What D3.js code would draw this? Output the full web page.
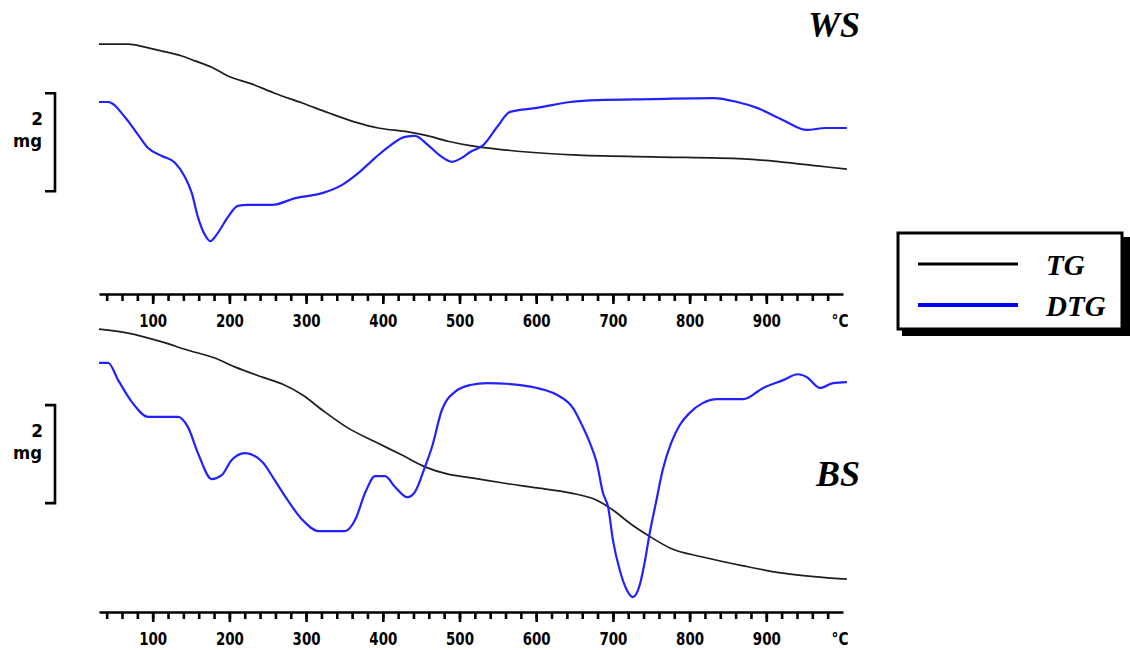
<!DOCTYPE html>
<html>
<head>
<meta charset="utf-8">
<script src="https://cdn.jsdelivr.net/npm/d3@7"></script>
<style>
  html, body { margin: 0; padding: 0; background: #fff; }
  svg { display: block; }
</style>
</head>
<body>
<svg id="chart" width="1130" height="650"></svg>
<script>
// ---------- DATA ----------
const seriesNames = ["TG", "DTG"];
const panelNames = ["WS", "BS"];
const tickLabels = [100, 200, 300, 400, 500, 600, 700, 800, 900];
const minorTicks = d3.range(40, 1000, 20);
const unitLabel = "°C";
const scaleBarLabel = ["2", "mg"];

// WS panel (temperature in °C, values in mg-scale units)
const wsTgTemp = [30, 68, 90, 112, 138, 155, 177, 198, 229, 259, 295, 329, 364, 394, 433, 459, 485, 518, 549, 588, 648, 752, 870, 918, 970, 1005];
const wsTgValue = [4.20, 4.20, 4.14, 4.06, 3.96, 3.86, 3.73, 3.55, 3.39, 3.20, 3.00, 2.80, 2.61, 2.49, 2.41, 2.33, 2.22, 2.12, 2.06, 2.00, 1.94, 1.90, 1.86, 1.80, 1.71, 1.65];
const wsDtgTemp = [30, 42, 64, 81, 94, 112, 129, 142, 151, 159, 168, 175, 185, 198, 211, 224, 256, 286, 321, 347, 368, 390, 407, 429, 442, 459, 477, 490, 503, 514, 531, 549, 566, 601, 644, 680, 752, 831, 862, 888, 922, 953, 977, 1005];
const wsDtgValue = [3.02, 3.02, 2.71, 2.35, 2.08, 1.92, 1.78, 1.49, 1.16, 0.67, 0.31, 0.18, 0.35, 0.67, 0.90, 0.92, 0.92, 1.06, 1.16, 1.33, 1.57, 1.88, 2.10, 2.31, 2.33, 2.14, 1.90, 1.80, 1.88, 2.00, 2.14, 2.51, 2.82, 2.90, 3.02, 3.06, 3.08, 3.10, 3.02, 2.90, 2.65, 2.45, 2.49, 2.49];

// BS panel
const bsTgTemp = [30, 68, 112, 146, 181, 207, 243, 269, 295, 321, 355, 390, 425, 455, 485, 518, 557, 601, 644, 679, 700, 722, 745, 775, 817, 870, 922, 970, 1005];
const bsTgValue = [5.65, 5.57, 5.39, 5.22, 5.06, 4.88, 4.67, 4.53, 4.31, 4.00, 3.63, 3.35, 3.08, 2.84, 2.69, 2.61, 2.51, 2.41, 2.31, 2.16, 1.96, 1.69, 1.45, 1.18, 1.00, 0.82, 0.67, 0.59, 0.55];
const bsDtgTemp = [30, 42, 55, 73, 94, 133, 146, 159, 177, 190, 203, 220, 243, 259, 276, 295, 316, 351, 364, 377, 390, 403, 416, 432, 442, 455, 464, 477, 494, 514, 536, 566, 601, 627, 648, 661, 670, 679, 687, 694, 700, 709, 718, 726, 735, 742, 748, 756, 765, 776, 787, 800, 817, 836, 870, 896, 922, 941, 953, 970, 987, 1005];
const bsDtgValue = [4.96, 4.96, 4.61, 4.16, 3.86, 3.86, 3.65, 3.12, 2.59, 2.67, 2.98, 3.12, 2.94, 2.57, 2.16, 1.76, 1.53, 1.53, 1.76, 2.31, 2.65, 2.65, 2.43, 2.22, 2.33, 2.84, 3.24, 4.00, 4.37, 4.51, 4.55, 4.53, 4.45, 4.31, 4.04, 3.65, 3.33, 2.92, 2.31, 2.00, 1.35, 0.73, 0.33, 0.18, 0.43, 0.94, 1.49, 2.10, 2.78, 3.33, 3.69, 3.94, 4.14, 4.22, 4.22, 4.45, 4.61, 4.73, 4.67, 4.45, 4.55, 4.57];

// ---------- LAYOUT ----------
const svg = d3.select("#chart");
const x = d3.scaleLinear().domain([30, 1000]).range([99, 843]);
const colors = { TG: "#1e1e1e", DTG: "#2222ff" };
const labelFont = "DejaVu Sans, sans-serif";

const panels = [
  { name: panelNames[0], y: d3.scaleLinear().domain([0, 5]).range([250, 5]), axisY: 294, bar: [1.2, 3.2],
    tg: wsTgTemp.map((t, i) => [t, wsTgValue[i]]), dtg: wsDtgTemp.map((t, i) => [t, wsDtgValue[i]]),
    titleX: 834, titleY: 37 },
  { name: panelNames[1], y: d3.scaleLinear().domain([0, 6]).range([606, 312]), axisY: 612, bar: [2.1, 4.1],
    tg: bsTgTemp.map((t, i) => [t, bsTgValue[i]]), dtg: bsDtgTemp.map((t, i) => [t, bsDtgValue[i]]),
    titleX: 838, titleY: 486 }
];

panels.forEach(p => {
  const g = svg.append("g");
  const line = d3.line().x(d => x(d[0])).y(d => p.y(d[1])).curve(d3.curveMonotoneX);

  // curves
  g.append("path").datum(p.tg).attr("d", line)
    .attr("fill", "none").attr("stroke", colors.TG).attr("stroke-width", 1.7);
  g.append("path").datum(p.dtg).attr("d", line)
    .attr("fill", "none").attr("stroke", colors.DTG).attr("stroke-width", 2.2);

  // minor ticks axis
  const minorAxis = d3.axisBottom(x).tickValues(minorTicks).tickSize(7).tickSizeOuter(0).tickFormat("");
  const ga = g.append("g").attr("transform", `translate(0,${p.axisY})`).call(minorAxis);
  ga.select(".domain").attr("stroke", "#000").attr("stroke-width", 2.4);
  ga.selectAll(".tick line").attr("stroke", "#000").attr("stroke-width", 2.6);

  // major ticks axis with labels
  const majorAxis = d3.axisBottom(x).tickValues(tickLabels).tickSize(10).tickSizeOuter(0).tickFormat(d3.format("d"));
  const gm = g.append("g").attr("transform", `translate(0,${p.axisY})`).call(majorAxis);
  gm.select(".domain").remove();
  gm.selectAll(".tick line").attr("stroke", "#000").attr("stroke-width", 2.6);
  gm.selectAll(".tick text")
    .attr("y", 33).attr("dy", null)
    .attr("font-family", labelFont).attr("font-weight", "bold").attr("font-size", 18)
    .attr("textLength", 28).attr("lengthAdjust", "spacingAndGlyphs")
    .attr("fill", "#000");

  g.append("text").attr("x", 840).attr("y", p.axisY + 33).attr("text-anchor", "middle")
    .attr("font-family", labelFont).attr("font-weight", "bold").attr("font-size", 17)
    .attr("textLength", 17).attr("lengthAdjust", "spacingAndGlyphs")
    .text(unitLabel);

  // scale bar (2 mg)
  const yTop = p.y(p.bar[1]), yBot = p.y(p.bar[0]);
  g.append("path")
    .attr("d", `M45,${yTop}H55V${yBot}H45`)
    .attr("fill", "none").attr("stroke", "#000").attr("stroke-width", 2.6);
  g.append("text").attr("x", 43).attr("y", yTop + 32).attr("text-anchor", "end")
    .attr("font-family", labelFont).attr("font-weight", "bold").attr("font-size", 17)
    .text(scaleBarLabel[0]);
  g.append("text").attr("x", 42).attr("y", yTop + 54).attr("text-anchor", "end")
    .attr("font-family", labelFont).attr("font-weight", "bold").attr("font-size", 17)
    .attr("textLength", 29).attr("lengthAdjust", "spacingAndGlyphs")
    .text(scaleBarLabel[1]);

  // panel title
  g.append("text").attr("x", p.titleX).attr("y", p.titleY).attr("text-anchor", "middle")
    .attr("font-family", "Liberation Serif, serif").attr("font-weight", "bold").attr("font-style", "italic")
    .attr("font-size", 36).text(p.name);
});

// ---------- LEGEND ----------
const lg = svg.append("g");
lg.append("rect").attr("x", 902).attr("y", 237).attr("width", 230).attr("height", 99).attr("fill", "#000");
lg.append("rect").attr("x", 898).attr("y", 233).attr("width", 224).attr("height", 96)
  .attr("fill", "#fff").attr("stroke", "#000").attr("stroke-width", 3);
const legendRows = [{ key: seriesNames[0], y: 264, w: 3 }, { key: seriesNames[1], y: 305, w: 4 }];
legendRows.forEach(r => {
  lg.append("line").attr("x1", 918).attr("x2", 1018).attr("y1", r.y).attr("y2", r.y)
    .attr("stroke", r.key === "TG" ? "#000" : "#0000ff").attr("stroke-width", r.w);
  lg.append("text").attr("x", 1046).attr("y", r.y + 11)
    .attr("font-family", "Liberation Serif, serif").attr("font-weight", "bold").attr("font-style", "italic")
    .attr("font-size", 29).text(r.key);
});
</script>
</body>
</html>
